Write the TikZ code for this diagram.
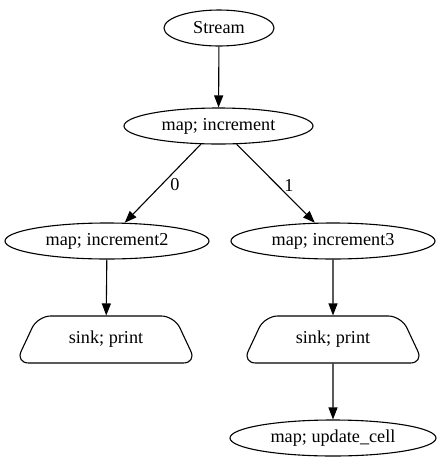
\documentclass[tikz,border=0pt]{standalone}
\usepackage{fontspec}
\setmainfont{Liberation Serif}
\usetikzlibrary{shapes.geometric,arrows.meta}
\begin{document}
\begin{tikzpicture}[x=1pt,y=-1pt,
  every node/.style={font=\fontsize{18.2}{20}\selectfont},
  oval/.style={draw,ellipse,inner sep=0pt,line width=1.1pt,minimum height=36pt},
  sinkbox/.style={draw,trapezium,trapezium stretches=true,trapezium angle=54,
    minimum width=182pt,minimum height=47pt,inner sep=0pt,rounded corners=13pt,line width=1.1pt},
  flow/.style={line width=1.1pt,-{Triangle[length=12pt,width=9pt]}},
  elabel/.style={font=\fontsize{18.2}{20}\selectfont}]
  \useasboundingbox (0,0) rectangle (441,467);

  \node[oval,minimum width=110pt] (stream) at (219,28) {Stream};
  \node[oval,minimum width=189pt] (inc) at (218.5,126) {map; increment};
  \node[oval,minimum width=204pt] (inc2) at (107,241) {map; increment2};
  \node[oval,minimum width=204pt] (inc3) at (333,241) {map; increment3};
  \node[sinkbox] (sinkL) at (106,339.5) {sink; print};
  \node[sinkbox] (sinkR) at (333,339.5) {sink; print};
  \node[oval,minimum width=206pt] (upd) at (333,438) {map; update\_cell};

  \draw[flow] (stream) -- (inc);
  \draw[flow] (inc) -- (inc2);
  \draw[flow] (inc) -- (inc3);
  \draw[flow] (inc2) -- (sinkL);
  \draw[flow] (inc3) -- (sinkR);
  \draw[flow] (sinkR) -- (upd);

  \node[elabel] (lab0) at (175,185) {0};
  \node[elabel] (lab1) at (289,185) {1};
\end{tikzpicture}
\end{document}
